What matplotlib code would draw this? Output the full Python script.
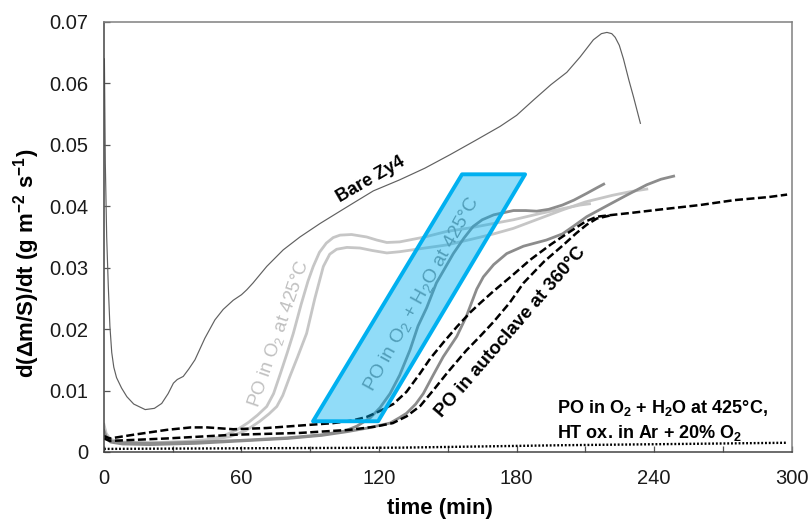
import matplotlib
matplotlib.use("Agg")
import matplotlib.pyplot as plt
from matplotlib.patches import Polygon
from matplotlib.ticker import MultipleLocator, FuncFormatter

plt.rcParams['font.family'] = ['Liberation Sans', 'DejaVu Sans']
plt.rcParams['mathtext.fontset'] = 'custom'
plt.rcParams['mathtext.rm'] = 'Liberation Sans'
plt.rcParams['mathtext.bf'] = 'Liberation Sans:bold'
plt.rcParams['mathtext.it'] = 'Liberation Sans:italic'
plt.rcParams['mathtext.sf'] = 'Liberation Sans'

# ---- data (time in min, rate in g m-2 s-1) ----
bare_t = [0.2, 0.6, 1.2, 1.9, 2.6, 3.4, 4.3, 5.5, 7.7, 10, 13, 18, 22, 25.2, 28, 30.3, 32, 34.6, 37,
          39.7, 44, 48.4, 52, 56.4, 60, 62.3, 65, 71, 78.2, 85.5, 94.3, 103, 110, 117.5, 129, 140,
          151, 162, 172.8, 180, 187.4, 195, 201.9, 207.7, 213.5, 217, 219.4, 221.5, 223, 224.8,
          226.6, 229, 231, 234]
bare_y = [0.064, 0.047, 0.035, 0.027, 0.0205, 0.0162, 0.0138, 0.0121, 0.0104, 0.0090, 0.0078,
          0.0069, 0.0071, 0.0079, 0.0095, 0.0112, 0.0118, 0.0123, 0.0135, 0.015, 0.0185, 0.0215,
          0.0232, 0.0247, 0.0256, 0.0264, 0.0275, 0.0302, 0.0329, 0.035, 0.0372, 0.0392, 0.0408,
          0.0425, 0.0443, 0.0462, 0.0484, 0.0507, 0.053, 0.0548, 0.0573, 0.0598, 0.0618, 0.0643,
          0.0671, 0.0681, 0.0683, 0.0681, 0.0675, 0.0662, 0.064, 0.0605, 0.0578, 0.0535]

o2a_t = [0, 1, 3, 8, 20, 35, 45, 52, 58, 63, 67, 71, 74, 77, 80, 82.6, 86, 89, 91.3, 94, 97, 100,
         103, 108, 114.6, 119, 123.4, 129, 140, 149.5, 160, 170, 178.6, 190, 200, 207.7, 211.8]
o2a_y = [0.0045, 0.003, 0.002, 0.0016, 0.0015, 0.0017, 0.002, 0.0026, 0.0036, 0.0048, 0.006, 0.0074,
         0.0095, 0.0128, 0.0162, 0.0193, 0.024, 0.0278, 0.0302, 0.0325, 0.034, 0.0349, 0.0353,
         0.0354, 0.035, 0.0345, 0.0341, 0.0342, 0.035, 0.0359, 0.0365, 0.0372, 0.0378, 0.0388,
         0.0396, 0.0402, 0.0404]

o2b_t = [0, 1, 3, 8, 20, 35, 45, 55, 62, 68, 72, 75.4, 78, 81, 84.5, 88.4, 92, 95.7, 98.5, 101.5,
         106, 111.7, 117, 123.4, 129, 140, 149.5, 160, 170, 178.6, 190, 200, 210, 222, 230, 236.8]
o2b_y = [0.004, 0.0028, 0.002, 0.0016, 0.0015, 0.0016, 0.0019, 0.0025, 0.0035, 0.005, 0.0062, 0.0074,
         0.0092, 0.0122, 0.0155, 0.0193, 0.025, 0.0302, 0.0322, 0.033, 0.0333, 0.0332, 0.0328,
         0.0324, 0.0326, 0.0332, 0.0337, 0.0346, 0.0355, 0.0364, 0.038, 0.0394, 0.0407, 0.0418,
         0.0424, 0.0428]

h2oc_t = [0, 1, 3, 8, 20, 40, 60, 80, 95, 105, 110.3, 116, 120.4, 124.8, 129, 133.5, 137, 140.8,
          145, 152.4, 157, 161, 165, 170, 178.6, 184, 188.8, 194, 200, 205, 210.6, 215, 218]
h2oc_y = [0.0035, 0.0025, 0.0018, 0.0015, 0.0014, 0.0016, 0.0019, 0.0023, 0.0028, 0.0034, 0.0042,
          0.0055, 0.0072, 0.0095, 0.0125, 0.0166, 0.0205, 0.0235, 0.0275, 0.0323, 0.0348, 0.0367,
          0.0378, 0.0386, 0.0393, 0.0393, 0.0392, 0.0395, 0.0402, 0.041, 0.0421, 0.043, 0.0436]

h2od_t = [0, 1, 3, 8, 20, 40, 60, 80, 95, 106, 115, 124.8, 129, 132, 136, 139.3, 143.6, 148, 153.9,
          158, 162.6, 165.5, 170, 175.7, 183, 193, 200, 205, 210.6, 220, 228, 236.8, 243, 248.5]
h2od_y = [0.003, 0.0022, 0.0016, 0.0013, 0.0012, 0.0014, 0.0018, 0.0022, 0.0027, 0.0033, 0.0039,
          0.0047, 0.0056, 0.0063, 0.0078, 0.0095, 0.0125, 0.0155, 0.0188, 0.022, 0.0265, 0.0285,
          0.0305, 0.0323, 0.0335, 0.0345, 0.0355, 0.0368, 0.0383, 0.0402, 0.0418, 0.0435, 0.0444,
          0.0449]

autoe_t = [0, 2.6, 12.8, 27.4, 38, 45, 56.4, 71, 85.5, 100, 108, 114.6, 120, 126.2, 132, 137.9,
           142.3, 148, 154, 160, 164, 170, 178, 186, 195, 203.4, 210, 215, 222, 229.5, 241, 260,
           275, 290, 298]
autoe_y = [0.0026, 0.0022, 0.0028, 0.0036, 0.004, 0.004, 0.0037, 0.0039, 0.0043, 0.0047, 0.0051,
           0.0057, 0.0066, 0.0078, 0.0098, 0.0128, 0.0152, 0.0178, 0.0204, 0.0228, 0.0242, 0.0262,
           0.0287, 0.0313, 0.0338, 0.0359, 0.0375, 0.0383, 0.0386, 0.0389, 0.0394, 0.0402, 0.041,
           0.0415, 0.0419]

autof_t = [0, 2.6, 15, 27.4, 56.4, 85.5, 107, 118, 126, 132, 138, 144, 150, 158, 164, 170, 177, 183,
           192, 200.4, 206, 210.6, 215, 222]
autof_y = [0.0022, 0.0018, 0.002, 0.0022, 0.0028, 0.0031, 0.0036, 0.0041, 0.0047, 0.0058, 0.0075,
           0.0102, 0.013, 0.0165, 0.0188, 0.0212, 0.0243, 0.0275, 0.031, 0.0337, 0.0356, 0.037,
           0.038, 0.0386]

ht_t = [0, 60, 129, 200, 250, 298]
ht_y = [0.0005, 0.0006, 0.0007, 0.0011, 0.0013, 0.0015]

box_t = [91.2, 119.6, 183.7, 156.2]
box_y = [0.0050, 0.0050, 0.0452, 0.0452]

xticks = [0, 60, 120, 180, 240, 300]
yticks = [0, 0.01, 0.02, 0.03, 0.04, 0.05, 0.06, 0.07]

# ---- figure ----
fig = plt.figure(figsize=(8.12, 5.23), dpi=100)
ax = fig.add_axes([0.128, 0.1358, 0.847, 0.8222])

light = '#c6c6c6'
mid = '#8c8c8c'
ax.plot(ht_t, ht_y, color='black', lw=1.7, ls=(0, (0.8, 0.8)), zorder=2)
ax.plot(o2a_t, o2a_y, color=light, lw=2.0, zorder=2)
ax.plot(o2b_t, o2b_y, color=light, lw=2.0, zorder=2)
ax.plot(h2oc_t, h2oc_y, color=mid, lw=2.0, zorder=2.1)
ax.plot(h2od_t, h2od_y, color=mid, lw=2.0, zorder=2.1)
ax.plot(autoe_t, autoe_y, color='black', lw=1.8, ls=(0, (3.2, 1.4)), zorder=2.2)
ax.plot(autof_t, autof_y, color='black', lw=1.8, ls=(0, (3.2, 1.4)), zorder=2.2)
ax.plot(bare_t, bare_y, color='#606060', lw=0.85, zorder=2.3)

poly = Polygon(list(zip(box_t, box_y)), closed=True, facecolor=(0.0, 0.69, 0.94, 0.43),
               edgecolor='#00b0f0', lw=2.8, joinstyle='round', zorder=3)
ax.add_patch(poly)

ax.text(138.5, 0.0257, r'PO in O$_\mathrm{2}$ + H$_\mathrm{2}$O at 425°C', color='#8f8f8f',
        fontsize=14, rotation=61, ha='center', va='center', rotation_mode='anchor', zorder=2.5)
ax.text(76, 0.0192, r'PO in O$_\mathrm{2}$ at 425°C', color='#c0c0c0', fontsize=13.5,
        rotation=71, ha='center', va='center', rotation_mode='anchor', zorder=4)
ax.text(116.5, 0.0444, 'Bare Zy4', fontweight='bold', fontsize=13, rotation=30,
        ha='center', va='center', rotation_mode='anchor', zorder=4)
ax.text(177.6, 0.0195, 'PO in autoclave at 360°C', fontweight='bold', fontsize=13.5,
        rotation=49, ha='center', va='center', rotation_mode='anchor', zorder=4)
ax.text(197.7, 0.0072, r'PO in O$_\mathbf{2}$ + H$_\mathbf{2}$O at 425°C,', fontweight='bold',
        fontsize=13, ha='left', va='center', zorder=4)
ax.text(197.7, 0.0031, r'HT ox. in Ar + 20% O$_\mathbf{2}$', fontweight='bold',
        fontsize=13, ha='left', va='center', zorder=4)

ax.set_xlim(0, 300)
ax.set_ylim(0, 0.07)
ax.set_xticks(xticks)
ax.xaxis.set_minor_locator(MultipleLocator(30))
ax.set_yticks(yticks)
ax.yaxis.set_major_formatter(FuncFormatter(lambda v, p: '0' if v == 0 else f'{v:.2f}'))
ax.tick_params(axis='both', which='both', direction='in', length=4, width=0.9,
               color='#555555', labelsize=14.5, labelcolor='#1a1a1a')
ax.tick_params(axis='y', pad=11)
ax.tick_params(axis='x', pad=12)
for side in ['left', 'bottom']:
    ax.spines[side].set_color('#444444')
    ax.spines[side].set_linewidth(1.1)
for side in ['top', 'right']:
    ax.spines[side].set_color('#808080')
    ax.spines[side].set_linewidth(1.1)

ax.set_ylabel(r'd(Δm/S)/dt (g m$^{\mathbf{-2}}$ s$^{\mathbf{-1}}$)', fontweight='bold', fontsize=16)
ax.yaxis.set_label_coords(-0.09, 0.44)
ax.set_xlabel('time (min)', fontweight='bold', fontsize=16)
ax.xaxis.set_label_coords(0.488, -0.108)

fig.savefig('out.png', dpi=100)
